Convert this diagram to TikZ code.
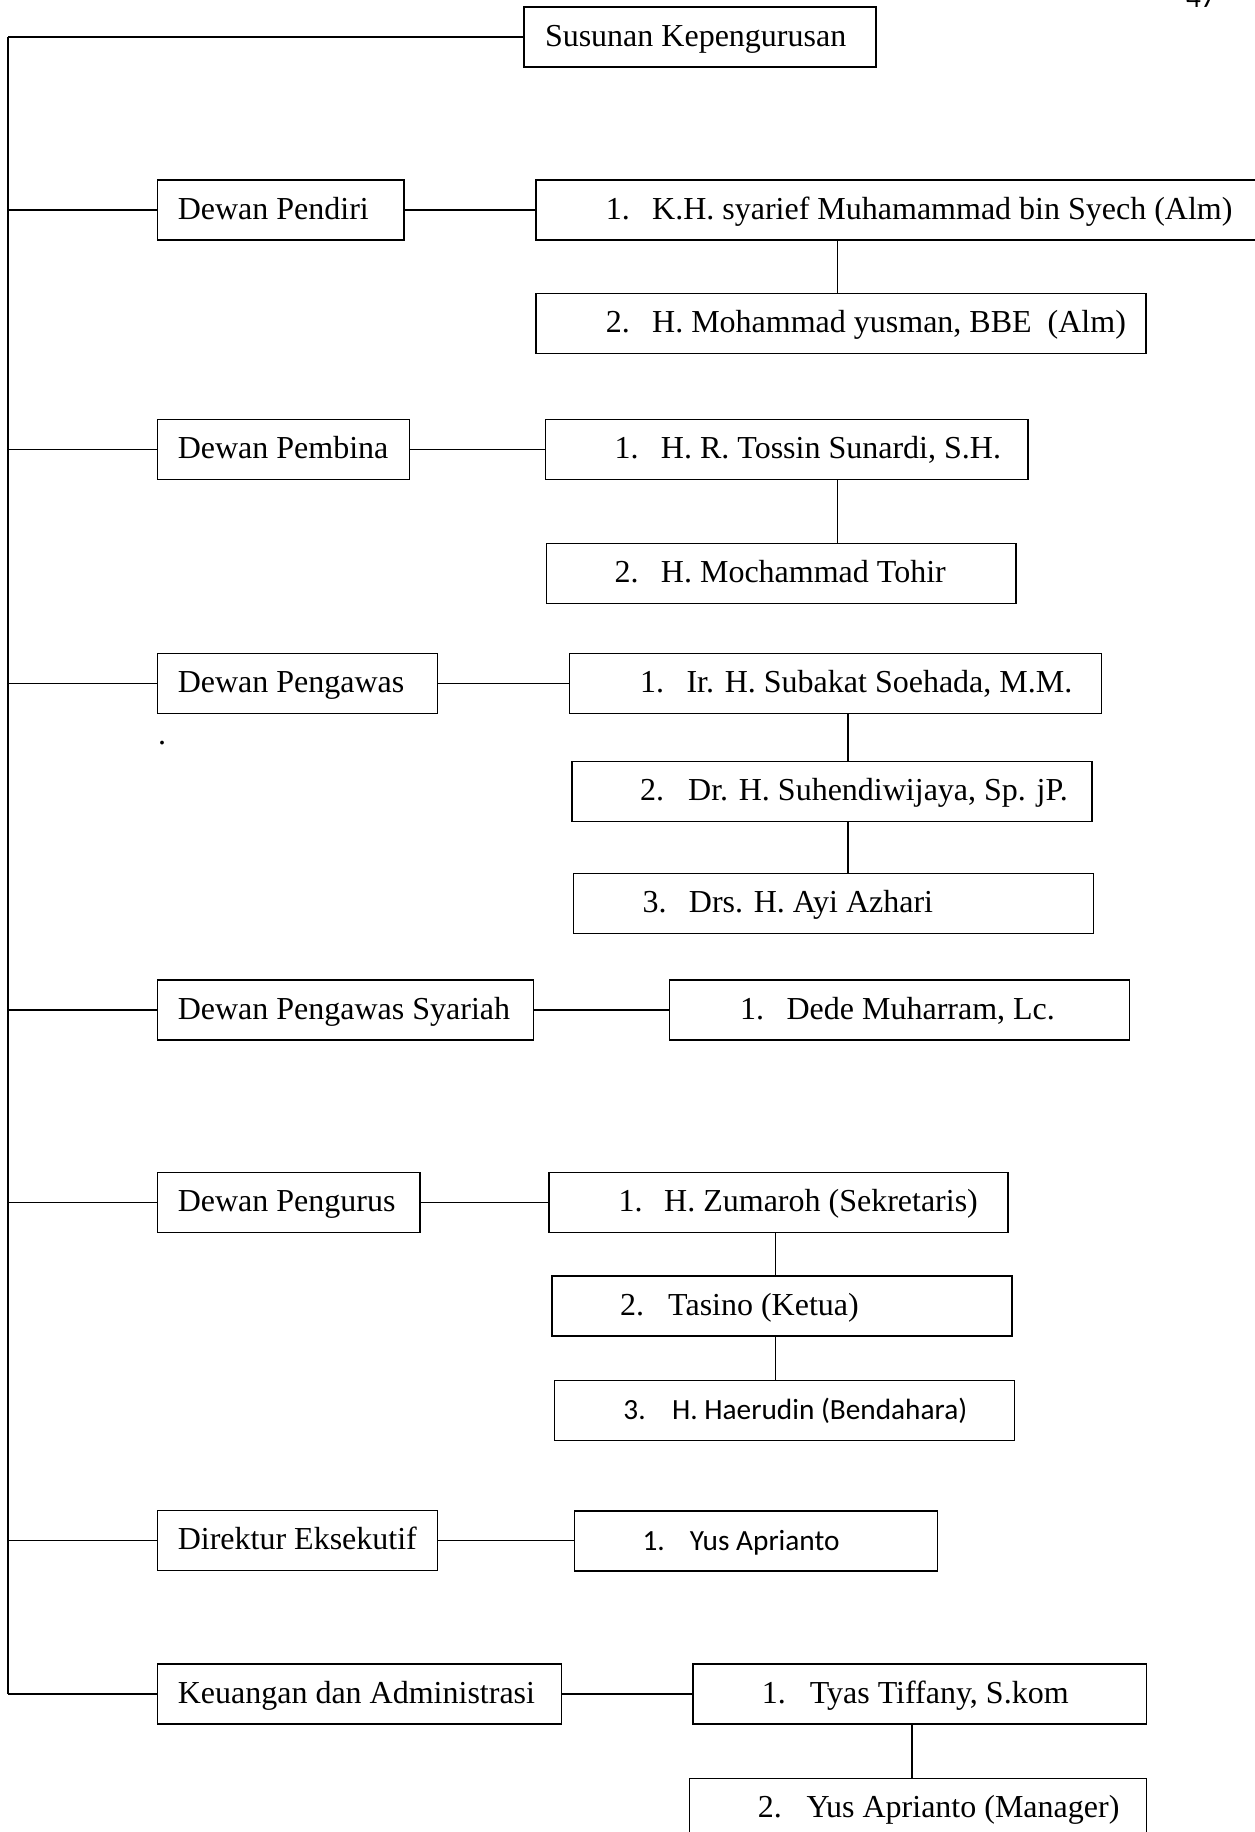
\documentclass[tikz,border=0pt]{standalone}
\usepackage{fontspec}
\setmainfont{Liberation Serif}
\newfontfamily\calibrifam{Carlito}
\newcommand\tfont{\fontsize{32}{38}\selectfont}
\newcommand\cfont{\calibrifam\fontsize{29.3}{35}\selectfont}
\newcommand\num[1]{\makebox[46.4pt][l]{#1}}
\begin{document}
\begin{tikzpicture}[x=1pt,y=-1pt,
  box/.style={draw, line width=1.5pt, inner sep=0pt, minimum height=60pt},
  lbl/.style={anchor=base west, inner sep=0pt, font=\tfont},
  clbl/.style={anchor=base west, inner sep=0pt, font=\cfont},
  conn/.style={line width=1.5pt},
  vconn/.style={line width=1.2pt}]
\clip (0,0) rectangle (1255,1832);
\fill[white] (0,0) rectangle (1255,1832);

% page number (cut off at top)
\node[clbl] (pgno) at (1186,7) {47};

% title
\node[box, minimum width=352pt] (t) at (700,37) {};
\node[lbl] (tt) at (544.8,46) {Susunan Kepengurusan};
\coordinate (trunk) at (8,0);

% Row A: Dewan Pendiri
\node[box, minimum width=246.4pt] (pendiri) at (280.8,210) {};
\node[lbl] (pendirit) at (177.6,219) {Dewan Pendiri};
\node[box, minimum width=726pt] (pendiri1) at (899,210) {};
\node[lbl] (pendiri1t) at (605.6,219) {\num{1.}K.H. syarief Muhamammad bin Syech (Alm)};
\node[box, minimum width=610pt] (pendiri2) at (841,323.5) {};
\node[lbl] (pendiri2t) at (605.6,332.5) {\num{2.}H. Mohammad yusman, BBE\ \ (Alm)};
\coordinate (cxA) at (837.6,0);

% Row B: Dewan Pembina
\node[box, minimum width=252pt] (pembina) at (283.6,449.5) {};
\node[lbl] (pembinat) at (177.6,458.5) {Dewan Pembina};
\node[box, minimum width=482.4pt] (pembina1) at (786.8,449.5) {};
\node[lbl] (pembina1t) at (614.4,458.5) {\num{1.}H. R. Tossin Sunardi, S.H.};
\node[box, minimum width=469.6pt] (pembina2) at (781.2,573.5) {};
\node[lbl] (pembina2t) at (614.4,582.5) {\num{2.}H. Mochammad Tohir};
\coordinate (cxB) at (837.6,0);

% Row C: Dewan Pengawas
\node[box, minimum width=280pt] (pengawas) at (297.6,683.6) {};
\node[lbl] (pengawast) at (177.6,692.6) {Dewan Pengawas};
\node[lbl] (dot) at (158,744) {.};
\node[box, minimum width=532pt] (pengawas1) at (835.6,683.6) {};
\node[lbl] (pengawas1t) at (640,692.6) {\num{1.}Ir. H. Subakat Soehada, M.M.};
\node[box, minimum width=520pt] (pengawas2) at (832,791.6) {};
\node[lbl] (pengawas2t) at (640,800.6) {\makebox[48pt][l]{2.}Dr. H. Suhendiwijaya, Sp. jP.};
\node[box, minimum width=520pt] (pengawas3) at (833.6,903.7) {};
\node[lbl] (pengawas3t) at (642.4,912.7) {\num{3.}Drs. H. Ayi Azhari};
\coordinate (cxC) at (848,0);

% Row D: Dewan Pengawas Syariah
\node[box, minimum width=376pt] (syariah) at (345.6,1010) {};
\node[lbl] (syariaht) at (177.6,1019) {Dewan Pengawas Syariah};
\node[box, minimum width=460pt] (syariah1) at (899.6,1010) {};
\node[lbl] (syariah1t) at (740,1019) {\num{1.}Dede Muharram, Lc.};

% Row E: Dewan Pengurus
\node[box, minimum width=262.4pt] (pengurus) at (288.8,1202.5) {};
\node[lbl] (pengurust) at (177.6,1211.5) {Dewan Pengurus};
\node[box, minimum width=459.2pt] (pengurus1) at (778.4,1202.5) {};
\node[lbl] (pengurus1t) at (618.4,1211.5) {\makebox[45.6pt][l]{1.}H. Zumaroh (Sekretaris)};
\node[box, minimum width=460pt] (pengurus2) at (782,1306) {};
\node[lbl] (pengurus2t) at (620,1315) {\makebox[48pt][l]{2.}Tasino (Ketua)};
\node[box, minimum width=460pt] (pengurus3) at (784.4,1410.7) {};
\node[clbl] (pengurus3t) at (623.2,1419.7) {\makebox[48.8pt][l]{3.}H. Haerudin (Bendahara)};
\coordinate (cxE) at (775.2,0);

% Row F: Direktur Eksekutif
\node[box, minimum width=280pt] (direktur) at (297.6,1540.5) {};
\node[lbl] (direkturt) at (177.6,1549.5) {Direktur Eksekutif};
\node[box, minimum width=363.2pt] (direktur1) at (756,1541) {};
\node[clbl] (direktur1t) at (642.4,1550) {\makebox[47.2pt][l]{1.}Yus Aprianto};

% Row G: Keuangan dan Administrasi
\node[box, minimum width=404pt] (keu) at (359.6,1694) {};
\node[lbl] (keut) at (177.6,1703) {Keuangan dan Administrasi};
\node[box, minimum width=453.6pt] (keu1) at (919.6,1694) {};
\node[lbl] (keu1t) at (761.6,1703) {\makebox[48pt][l]{1.}Tyas Tiffany, S.kom};
\node[box, minimum width=456.8pt] (keu2) at (918,1808.3) {};
\node[lbl] (keu2t) at (757.6,1817.3) {\makebox[48.8pt][l]{2.}Yus Aprianto (Manager)};
\coordinate (cxG) at (912,0);

% trunk and branches
\draw[conn] (t.west) -- (t.west -| trunk);
\draw[vconn] (t.west -| trunk) -- (trunk |- keu.west);
\foreach \n in {pendiri,pembina,pengawas,syariah,pengurus,direktur,keu}
  \draw[conn] (trunk |- \n.west) -- (\n.west);

% links to first members
\draw[conn] (pendiri.east) -- (pendiri.east -| pendiri1.west);
\draw[conn] (pembina.east) -- (pembina.east -| pembina1.west);
\draw[conn] (pengawas.east) -- (pengawas.east -| pengawas1.west);
\draw[conn] (syariah.east) -- (syariah.east -| syariah1.west);
\draw[conn] (pengurus.east) -- (pengurus.east -| pengurus1.west);
\draw[conn] (direktur.east) -- (direktur.east -| direktur1.west);
\draw[conn] (keu.east) -- (keu.east -| keu1.west);

% vertical links between members
\draw[vconn] (pendiri1.south -| cxA) -- (pendiri2.north -| cxA);
\draw[vconn] (pembina1.south -| cxB) -- (pembina2.north -| cxB);
\draw[vconn] (pengawas1.south -| cxC) -- (pengawas2.north -| cxC);
\draw[vconn] (pengawas2.south -| cxC) -- (pengawas3.north -| cxC);
\draw[vconn] (pengurus1.south -| cxE) -- (pengurus2.north -| cxE);
\draw[vconn] (pengurus2.south -| cxE) -- (pengurus3.north -| cxE);
\draw[vconn] (keu1.south -| cxG) -- (keu2.north -| cxG);
\end{tikzpicture}
\end{document}
